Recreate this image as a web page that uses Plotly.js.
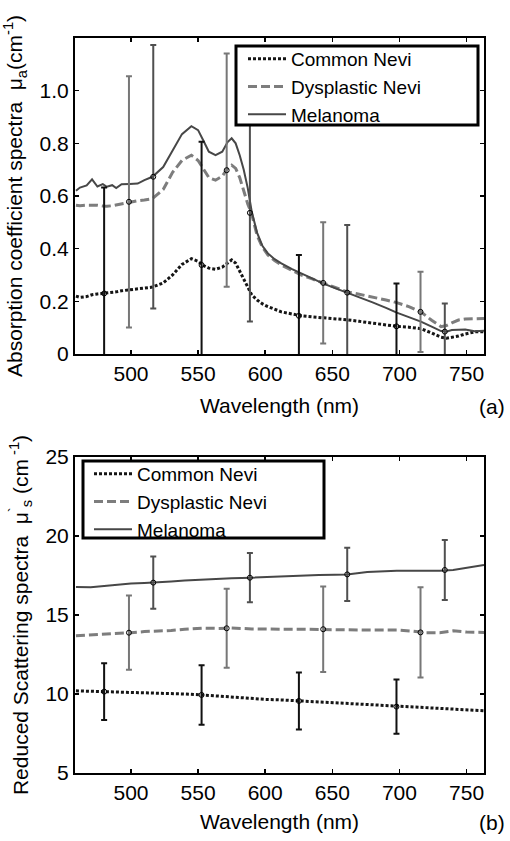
<!DOCTYPE html>
<html>
<head>
<meta charset="utf-8">
<script src="https://cdn.plot.ly/plotly-3.0.1.min.js"></script>
<style>html,body{margin:0;padding:0;background:#fff;}#chart{width:510px;height:841px;}</style>
</head>
<body>
<div id="chart"></div>
<script>
// ---- Panel (a): absorption coefficient spectra ----
const wlA = [459,462,467,471,475,479,482,486,489,493,499,505,510,516,524,531,538,545,550,554,558,563,568,572,575,578,581,584,587,590,594,598,602,607,612,620,627,635,643,652,661,670,680,690,698,707,716,724,731,735,739,744,749,756,763];
const absCommon = [0.22,0.215,0.218,0.225,0.228,0.23,0.232,0.232,0.236,0.24,0.243,0.246,0.25,0.254,0.27,0.30,0.34,0.362,0.352,0.336,0.326,0.322,0.33,0.345,0.357,0.345,0.315,0.28,0.25,0.224,0.205,0.19,0.18,0.17,0.16,0.152,0.145,0.141,0.138,0.134,0.13,0.124,0.117,0.11,0.105,0.102,0.096,0.08,0.064,0.06,0.063,0.068,0.076,0.084,0.085];
const absDysplastic = [0.565,0.563,0.565,0.566,0.565,0.562,0.561,0.563,0.566,0.572,0.578,0.582,0.585,0.59,0.625,0.69,0.735,0.755,0.735,0.705,0.67,0.66,0.675,0.705,0.717,0.705,0.67,0.62,0.57,0.53,0.45,0.405,0.376,0.355,0.338,0.318,0.30,0.285,0.27,0.252,0.236,0.227,0.217,0.205,0.195,0.18,0.16,0.128,0.104,0.108,0.118,0.129,0.133,0.135,0.135];
const absMelanoma = [0.62,0.632,0.64,0.663,0.636,0.645,0.635,0.641,0.63,0.645,0.646,0.647,0.66,0.673,0.71,0.774,0.835,0.865,0.85,0.81,0.768,0.755,0.768,0.805,0.819,0.80,0.755,0.70,0.63,0.54,0.46,0.41,0.382,0.36,0.344,0.322,0.305,0.285,0.268,0.25,0.233,0.215,0.196,0.175,0.157,0.14,0.123,0.104,0.087,0.085,0.091,0.092,0.093,0.086,0.088];

// error-bar sample points (a)
const ebWlCommon = [480,552.6,625.1,697.8];
const ebWlDysplastic = [498.5,571.3,643.2,715.7];
const ebWlMelanoma = [516.6,588.6,661.1,733.8];
const ebAbsCommon = [0.23,0.338,0.145,0.105];
const ebAbsCommonErr = [0.402,0.468,0.231,0.163];
const ebAbsDysplastic = [0.578,0.698,0.27,0.16];
const ebAbsDysplasticErr = [0.477,0.443,0.23,0.152];
const ebAbsMelanoma = [0.673,0.536,0.233,0.085];
const ebAbsMelanomaErr = [0.5,0.413,0.257,0.107];

// ---- Panel (b): reduced scattering spectra ----
const wlB = [459,470,480,490,500,510,520,530,540,553,565,575,590,600,613,626,640,652,661,676,690,698,710,720,730,740,750,763];
const scaCommon = [10.2,10.17,10.15,10.12,10.1,10.08,10.06,10.05,10.0,9.94,9.86,9.8,9.74,9.66,9.62,9.56,9.47,9.41,9.37,9.3,9.24,9.2,9.15,9.1,9.05,9.02,8.98,8.94];
const scaDysplastic = [13.69,13.73,13.78,13.83,13.88,13.95,13.98,14.02,14.1,14.17,14.15,14.17,14.12,14.1,14.1,14.1,14.1,14.08,14.06,14.05,14.05,14.05,13.98,13.88,13.88,14.0,13.92,13.9];
const scaMelanoma = [16.78,16.76,16.84,16.92,17.0,17.03,17.06,17.12,17.18,17.24,17.32,17.33,17.36,17.4,17.43,17.48,17.53,17.55,17.57,17.72,17.78,17.8,17.8,17.8,17.8,17.85,18.0,18.17];

const ebScaCommon = [10.15,9.94,9.56,9.2];
const ebScaCommonErr = [1.8,1.88,1.8,1.72];
const ebScaDysplastic = [13.88,14.16,14.1,13.9];
const ebScaDysplasticErr = [2.35,2.5,2.7,2.85];
const ebScaMelanoma = [17.05,17.36,17.57,17.85];
const ebScaMelanomaErr = [1.65,1.56,1.68,1.9];

const seriesNames = ['Common Nevi','Dysplastic Nevi','Melanoma'];
const xTicks = [500,550,600,650,700,750];
const yTicksA = [0,0.2,0.4,0.6,0.8,1.0];
const yTickTextA = ['0','0.2','0.4','0.6','0.8','1.0'];
const yTicksB = [5,10,15,20,25];

// styles
const lineStyles = [
  {color:'#151515', width:3, dash:'3px,2px'},
  {color:'#7d7d7d', width:3, dash:'9px,4px'},
  {color:'#474747', width:2, dash:'solid'}
];
const ebColors = ['#111111','#777777','#505050'];

function lineTrace(x, y, i, xa, ya, leg) {
  return {x:x, y:y, type:'scatter', mode:'lines', name:seriesNames[i],
    line:lineStyles[i], xaxis:xa, yaxis:ya, legend:leg, hoverinfo:'skip'};
}
function ebTrace(x, y, err, i, xa, ya) {
  return {x:x, y:y, type:'scatter', mode:'markers', showlegend:false,
    marker:{symbol:'circle-open', size:5, color:'#000', line:{width:1, color:'#000'}},
    error_y:{type:'data', array:err, visible:true, color:ebColors[i], thickness:2, width:3},
    xaxis:xa, yaxis:ya, cliponaxis:true, hoverinfo:'skip'};
}

const data = [
  lineTrace(wlA, absCommon, 0, 'x', 'y', 'legend'),
  lineTrace(wlA, absDysplastic, 1, 'x', 'y', 'legend'),
  lineTrace(wlA, absMelanoma, 2, 'x', 'y', 'legend'),
  ebTrace(ebWlCommon, ebAbsCommon, ebAbsCommonErr, 0, 'x', 'y'),
  ebTrace(ebWlDysplastic, ebAbsDysplastic, ebAbsDysplasticErr, 1, 'x', 'y'),
  ebTrace(ebWlMelanoma, ebAbsMelanoma, ebAbsMelanomaErr, 2, 'x', 'y'),
  lineTrace(wlB, scaCommon, 0, 'x2', 'y2', 'legend2'),
  lineTrace(wlB, scaDysplastic, 1, 'x2', 'y2', 'legend2'),
  lineTrace(wlB, scaMelanoma, 2, 'x2', 'y2', 'legend2'),
  ebTrace(ebWlCommon, ebScaCommon, ebScaCommonErr, 0, 'x2', 'y2'),
  ebTrace(ebWlDysplastic, ebScaDysplastic, ebScaDysplasticErr, 1, 'x2', 'y2'),
  ebTrace(ebWlMelanoma, ebScaMelanoma, ebScaMelanomaErr, 2, 'x2', 'y2')
];

const W = 510, H = 841;
const FONT = 'Liberation Sans, Arial, Helvetica, sans-serif';
const axisCommon = {
  showline:true, linecolor:'#000', linewidth:2, mirror:'ticks',
  ticks:'inside', ticklen:4, tickwidth:1.5, tickcolor:'#000',
  showgrid:false, zeroline:false, automargin:false,
  tickfont:{size:21, color:'#000', family:FONT}
};
const xDomain = [75/W, 484/W];

const layout = {
  width:W, height:H,
  margin:{l:0, r:0, t:0, b:0},
  paper_bgcolor:'#fff', plot_bgcolor:'#fff',
  font:{family:FONT, color:'#000'},
  xaxis: Object.assign({}, axisCommon, {domain:xDomain, anchor:'y', range:[458.3,763], tickvals:xTicks,
    title:{text:'Wavelength (nm)', font:{size:21}, standoff:14}}),
  yaxis: Object.assign({}, axisCommon, {domain:[1-354/H, 1-38/H], anchor:'x', range:[0,1.2], tickvals:yTicksA, ticktext:yTickTextA,
    title:{text:'Absorption coefficient spectra\u00a0\u00a0μ<sub>a</sub>(cm<sup>-1</sup>)', font:{size:21}, standoff:11}}),
  xaxis2: Object.assign({}, axisCommon, {domain:xDomain, anchor:'y2', range:[458.3,763], tickvals:xTicks,
    title:{text:'Wavelength (nm)', font:{size:21}, standoff:11}}),
  yaxis2: Object.assign({}, axisCommon, {domain:[1-773/H, 1-457/H], anchor:'x2', range:[5,25], tickvals:yTicksB,
    title:{text:'Reduced Scattering spectra\u00a0\u00a0μ<sup>`</sup><sub>s</sub> (cm<sup> -1</sup>)', font:{size:21}, standoff:11}}),
  legend:{x:243/W, y:1-40/H, xanchor:'left', yanchor:'top', bgcolor:'rgba(0,0,0,0)', borderwidth:0,
    font:{size:19, color:'#000'}, itemwidth:38, tracegroupgap:0},
  legend2:{x:89/W, y:1-455/H, xanchor:'left', yanchor:'top', bgcolor:'rgba(0,0,0,0)', borderwidth:0,
    font:{size:19, color:'#000'}, itemwidth:38, tracegroupgap:0},
  shapes:[
    {type:'rect', xref:'paper', yref:'paper', x0:236/W, x1:478/W, y0:1-125/H, y1:1-46/H,
      line:{color:'#000', width:3}, fillcolor:'#fff', layer:'above'},
    {type:'rect', xref:'paper', yref:'paper', x0:83/W, x1:324/W, y0:1-538/H, y1:1-461/H,
      line:{color:'#000', width:3}, fillcolor:'#fff', layer:'above'}
  ],
  annotations:[
    {text:'(a)', xref:'paper', yref:'paper', x:492/W, y:1-406/H, showarrow:false, font:{size:21}, xanchor:'center', yanchor:'middle'},
    {text:'(b)', xref:'paper', yref:'paper', x:492/W, y:1-822/H, showarrow:false, font:{size:21}, xanchor:'center', yanchor:'middle'}
  ]
};

Plotly.newPlot('chart', data, layout, {staticPlot:true, displayModeBar:false});
</script>
</body>
</html>
